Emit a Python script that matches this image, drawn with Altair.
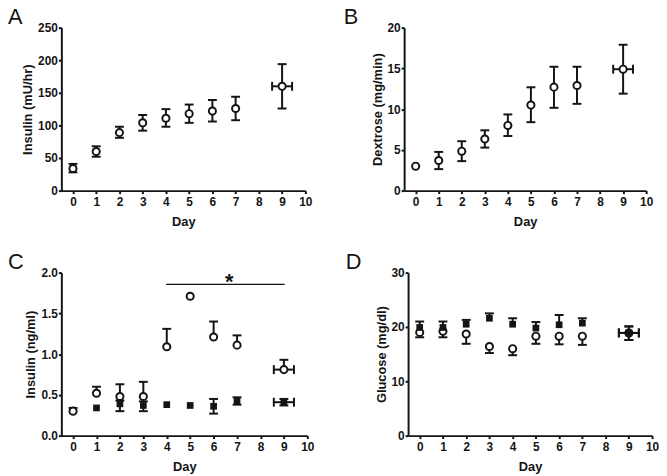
import altair as alt
import pandas as pd

FONT = "Liberation Sans"
INK = "#141414"

days = [0, 1, 2, 3, 4, 5, 6, 7, 9]
day9_span = [8.57, 9.43]

# Panel A: insulin infusion (mU/hr), open circles
a_mean = [34, 60, 89, 104, 111, 118, 122, 126, 160]
a_lo = [28, 52, 81, 92, 98, 104, 106, 108, 126]
a_hi = [41, 68, 98, 116, 125, 132, 139, 144, 194]

# Panel B: dextrose (mg/min), open circles
b_mean = [3.0, 3.7, 4.84, 6.34, 8.0, 10.5, 12.7, 12.9, 14.9]
b_lo = [3.0, 2.64, 3.62, 5.28, 6.7, 8.4, 10.16, 10.65, 11.9]
b_hi = [3.0, 4.75, 6.06, 7.4, 9.35, 12.68, 15.2, 15.2, 17.9]

# Panel C: plasma insulin (ng/ml)
c_open_mean = [0.30, 0.52, 0.48, 0.48, 1.09, 1.71, 1.21, 1.11, 0.81]
c_open_lo = [0.30, 0.52, 0.48, 0.48, 1.09, 1.71, 1.21, 1.11, 0.81]
c_open_hi = [0.34, 0.60, 0.63, 0.66, 1.31, 1.71, 1.40, 1.23, 0.93]
c_fill_days = [1, 2, 3, 4, 5, 6, 7, 9]
c_fill_mean = [0.34, 0.39, 0.37, 0.38, 0.37, 0.36, 0.42, 0.41]
c_fill_lo = [0.34, 0.30, 0.30, 0.38, 0.37, 0.27, 0.38, 0.37]
c_fill_hi = [0.34, 0.43, 0.42, 0.38, 0.37, 0.45, 0.47, 0.45]
c_sig_span = [3.97, 9.03]
c_sig_y = 1.855

# Panel D: glucose (mg/dl)
d_open_mean = [19.0, 19.2, 18.7, 16.4, 16.0, 18.3, 18.3, 18.3, 18.9]
d_open_lo = [18.1, 18.1, 16.9, 15.2, 14.8, 16.9, 16.8, 16.7, 17.6]
d_open_hi = [19.0, 19.2, 18.7, 16.4, 16.0, 18.3, 18.3, 18.3, 20.1]
d_fill_mean = [19.9, 19.9, 20.5, 21.6, 20.5, 19.8, 20.4, 20.7, 18.9]
d_fill_lo = [19.9, 19.9, 20.5, 21.6, 20.5, 19.8, 20.4, 20.7, 17.6]
d_fill_hi = [21.0, 21.0, 21.3, 22.5, 21.6, 20.9, 22.2, 21.6, 20.1]


def series_layers(dd, mean, lo, hi, shape, X, Y):
    df = pd.DataFrame({"day": dd, "mean": mean, "lo": lo, "hi": hi})
    df["xlo"] = [day9_span[0] if d == 9 else d for d in dd]
    df["xhi"] = [day9_span[1] if d == 9 else d for d in dd]
    caps = []
    for _, r in df.iterrows():
        if r["lo"] < r["mean"]:
            caps.append({"day": r["day"], "v": r["lo"]})
        if r["hi"] > r["mean"]:
            caps.append({"day": r["day"], "v": r["hi"]})
    caps = pd.DataFrame(caps, columns=["day", "v"])
    hz = df[df["day"] == 9]
    hcaps = pd.DataFrame({"x": list(hz["xlo"]) + list(hz["xhi"]),
                          "y": list(hz["mean"]) * 2})
    bars = df[df["hi"] > df["lo"]]
    layers = [
        alt.Chart(bars).mark_rule(color=INK, strokeWidth=2).encode(
            x=X("day"), y=Y("lo"), y2="hi:Q"),
        alt.Chart(caps).mark_rule(color=INK, strokeWidth=2, xOffset=-4.5, x2Offset=4.5).encode(
            x=X("day"), x2="day:Q", y=Y("v")),
        alt.Chart(hz).mark_rule(color=INK, strokeWidth=2).encode(
            x=X("xlo"), x2="xhi:Q", y=Y("mean")),
        alt.Chart(hcaps).mark_rule(color=INK, strokeWidth=2, yOffset=-4.5, y2Offset=4.5).encode(
            x=X("x"), y=Y("y"), y2="y:Q"),
    ]
    if shape == "circle":
        pts = alt.Chart(df).mark_point(shape="circle", size=52, filled=False, fill="white",
                                       fillOpacity=1, stroke=INK, strokeWidth=2, opacity=1)
    else:
        pts = alt.Chart(df).mark_square(size=46, color=INK, opacity=1)
    layers.append(pts.encode(x=X("day"), y=Y("mean")))
    return layers


def panel(series, ymax, ystep, yfmt, ytitle, letter, width, letter_dx, extra=None):
    xs = alt.Scale(domain=[-0.5, 10], nice=False, zero=False)
    ys = alt.Scale(domain=[0, ymax], nice=False)
    yvals = [round(i * ystep, 3) for i in range(int(round(ymax / ystep)) + 1)]
    xaxis = alt.Axis(values=list(range(11)), format="d", labelOverlap=False)
    yaxis = alt.Axis(values=yvals, format=yfmt, labelOverlap=False)

    def X(f):
        return alt.X(f + ":Q", scale=xs, axis=xaxis, title="Day")

    def Y(f):
        return alt.Y(f + ":Q", scale=ys, axis=yaxis, title=ytitle)

    layers = []
    for s in series:
        layers += series_layers(*s, X, Y)
    if extra:
        layers += extra(X, Y)
    lab = alt.Chart(pd.DataFrame({"t": [letter]})).mark_text(
        font=FONT, fontSize=22, color=INK, align="left", baseline="alphabetic").encode(
        x=alt.value(letter_dx), y=alt.value(-4), text="t:N")
    layers.append(lab)
    return alt.layer(*layers).properties(width=width, height=165)


def sig_layers(X, Y):
    line = pd.DataFrame({"x": [c_sig_span[0]], "x2": [c_sig_span[1]], "y": [c_sig_y]})
    star = pd.DataFrame({"x": [6.67], "y": [1.80], "t": ["*"]})
    return [
        alt.Chart(line).mark_rule(color=INK, strokeWidth=1.2).encode(
            x=X("x"), x2="x2:Q", y=Y("y")),
        alt.Chart(star).mark_text(font=FONT, fontSize=22, fontWeight="bold", color=INK,
                                  baseline="alphabetic").encode(
            x=X("x"), y=Y("y"), text="t:N"),
    ]


pA = panel([(days, a_mean, a_lo, a_hi, "circle")], 250, 50, "d",
           "Insulin (mU/hr)", "A", 247, -54)
pB = panel([(days, b_mean, b_lo, b_hi, "circle")], 20, 5, "d",
           "Dextrose (mg/min)", "B", 245, -61)
pC = panel([(days, c_open_mean, c_open_lo, c_open_hi, "circle"),
            (c_fill_days, c_fill_mean, c_fill_lo, c_fill_hi, "square")], 2.0, 0.5, ".1f",
           "Insulin (ng/ml)", "C", 249, -54, extra=sig_layers)
pD = panel([(days, d_open_mean, d_open_lo, d_open_hi, "circle"),
            (days, d_fill_mean, d_fill_lo, d_fill_hi, "square")], 30, 10, "d",
           "Glucose (mg/dl)", "D", 247, -63)

chart = alt.vconcat(
    alt.hconcat(pA, pB, spacing=32),
    alt.hconcat(pC, pD, spacing=32),
    spacing=23,
).properties(padding={"top": -5, "left": 0, "right": 0, "bottom": 0}).configure_view(
    stroke=None).configure_axis(
    grid=False, domainColor=INK, domainWidth=2, tickColor=INK, tickWidth=2, tickSize=3,
    labelFont=FONT, labelFontSize=12, labelFontWeight="bold", labelColor=INK, labelPadding=1,
    titleFont=FONT, titleFontSize=13, titleFontWeight="bold", titleColor=INK,
).configure_axisX(titlePadding=8, labelPadding=3, labelFlush=False).configure_axisY(
    titlePadding=3)

chart.save("out.html", embed_options={"renderer": "svg", "actions": False})
